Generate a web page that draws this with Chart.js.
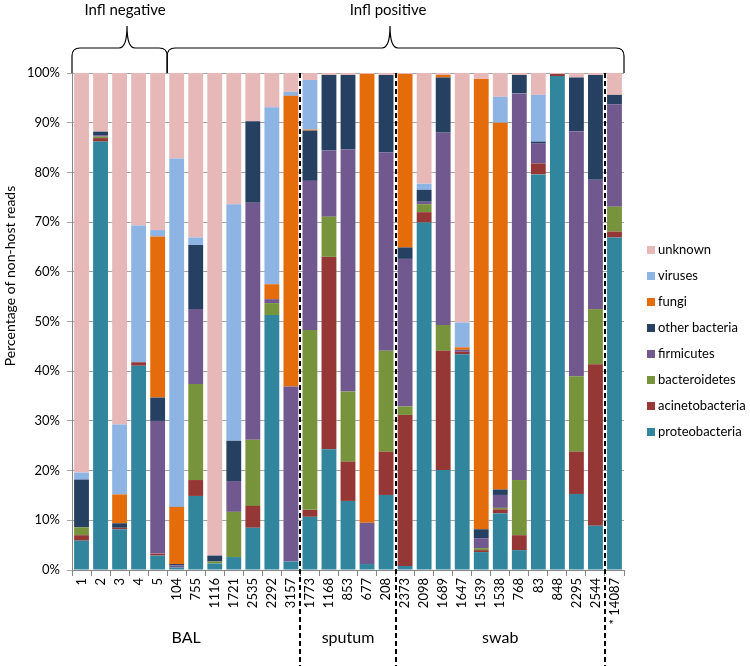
<!DOCTYPE html>
<html>
<head>
<meta charset="utf-8">
<script src="https://cdn.jsdelivr.net/npm/chart.js@4.4.1/dist/chart.umd.min.js"></script>
<style>
  html, body { margin: 0; padding: 0; background: #fff; }
  #wrap { width: 750px; height: 666px; position: relative; }
</style>
</head>
<body>
<div id="wrap"><canvas id="chart" width="750" height="666"></canvas></div>
<script>
// categorias (amostras)
const categories = ['1', '2', '3', '4', '5', '104', '755', '1116', '1721', '2535', '2292', '3157',
    '1773', '1168', '853', '677', '208',
    '2373', '2098', '1689', '1647', '1539', '1538', '768', '83', '848', '2295', '2544',
    '* 14087'];

// séries (percentual de leituras)
const proteobacteria = [5.9, 86.2, 8.2, 41.1, 2.9, 0.5, 14.9, 1.3, 2.6, 8.5, 51.3, 1.7,
    10.7, 24.3, 13.9, 1.2, 15.1,
    0.8, 69.9, 20.1, 43.4, 3.6, 11.4, 4.0, 79.6, 99.4, 15.3, 8.9, 66.9];
const acinetobacteria = [1.1, 0.7, 0.3, 0.7, 0.4, 0, 3.2, 0, 0, 4.4, 0, 0,
    1.4, 38.7, 7.9, 0, 8.7,
    30.4, 2.1, 24.0, 0.5, 0.4, 0.8, 3.0, 2.2, 0.4, 8.5, 32.5, 1.2];
const bacteroidetes = [1.6, 0.3, 0, 0, 0, 0, 19.3, 0.4, 9.1, 13.3, 2.4, 0,
    36.2, 8.1, 14.1, 0, 20.3,
    1.7, 1.6, 5.2, 0, 0.4, 0.3, 11.1, 0, 0, 15.2, 11.1, 5.0];
const firmicutes = [0, 0.3, 0, 0, 26.7, 0.4, 15.1, 0, 6.2, 47.7, 0.8, 35.2,
    30.0, 13.3, 48.7, 8.3, 39.9,
    29.7, 0.5, 38.7, 0.4, 2.0, 2.6, 77.8, 4.1, 0, 49.3, 26.0, 20.6];
const otherBacteria = [9.6, 0.7, 0.9, 0, 4.7, 0.3, 12.9, 1.2, 8.1, 16.4, 0, 0,
    10.1, 15.2, 15.0, 0, 15.6,
    2.3, 2.4, 11.1, 0, 1.8, 1.1, 3.7, 0.3, 0, 10.8, 21.1, 1.9];
const fungi = [0, 0, 5.8, 0, 32.4, 11.5, 0, 0, 0, 0, 3.0, 58.5,
    0.2, 0, 0, 90.3, 0,
    34.9, 0, 0.5, 0.5, 90.6, 73.8, 0, 0, 0, 0, 0, 0];
const viruses = [1.4, 0, 14.1, 27.5, 1.3, 70.1, 1.5, 0, 47.6, 0, 35.6, 0.8,
    10.0, 0, 0, 0, 0,
    0, 1.2, 0, 5.0, 0, 5.2, 0, 9.4, 0, 0, 0, 0];
const unknown = [80.4, 11.8, 70.7, 30.7, 31.6, 17.2, 33.1, 97.1, 26.4, 9.7, 6.9, 3.8,
    1.4, 0.4, 0.4, 0.2, 0.4,
    0.2, 22.3, 0.4, 50.2, 1.2, 4.8, 0.4, 4.4, 0.2, 0.9, 0.4, 4.4];

const yTicks = [0, 10, 20, 30, 40, 50, 60, 70, 80, 90, 100];

// grupos de amostras
const groupLabels = ['BAL', 'sputum', 'swab'];
const groupStarts = [0, 12, 17, 28];      // índice inicial de cada grupo (último = "*")
const inflLabels = ['Infl negative', 'Infl positive'];
const inflStarts = [0, 5];
const inflTips = [127, 390];              // posição da ponta de cada chave

const FONT = 'Lato, "Open Sans", sans-serif';

const seriesList = [
    { label: 'proteobacteria', data: proteobacteria, color: '#31859C' },
    { label: 'acinetobacteria', data: acinetobacteria, color: '#953735' },
    { label: 'bacteroidetes', data: bacteroidetes, color: '#77933C' },
    { label: 'firmicutes', data: firmicutes, color: '#71588F' },
    { label: 'other bacteria', data: otherBacteria, color: '#254061' },
    { label: 'fungi', data: fungi, color: '#E46C0A' },
    { label: 'viruses', data: viruses, color: '#8EB4E3' },
    { label: 'unknown', data: unknown, color: '#E6B9B8' }
];

function drawBrace(ctx, x0, x1, xm, yEnd, yBar, yTip) {
    const r = 8;
    ctx.beginPath();
    ctx.moveTo(x0, yEnd);
    ctx.lineTo(x0, yBar + r);
    ctx.quadraticCurveTo(x0, yBar, x0 + r, yBar);
    ctx.lineTo(xm - r, yBar);
    ctx.quadraticCurveTo(xm, yBar, xm, yTip);
    ctx.quadraticCurveTo(xm, yBar, xm + r, yBar);
    ctx.lineTo(x1 - r, yBar);
    ctx.quadraticCurveTo(x1, yBar, x1, yBar + r);
    ctx.lineTo(x1, yEnd);
    ctx.stroke();
}

const annotations = {
    id: 'annotations',
    afterDraw(chart) {
        const ctx = chart.ctx;
        const x = chart.scales.x;
        const area = chart.chartArea;
        const between = i => (x.getPixelForTick(i - 1) + x.getPixelForTick(i)) / 2;

        ctx.save();
        // linhas tracejadas separando os grupos
        ctx.strokeStyle = '#000';
        ctx.lineWidth = 2;
        ctx.setLineDash([5, 3]);
        for (let g = 1; g < groupStarts.length; g++) {
            const px = Math.round(between(groupStarts[g]));
            ctx.beginPath();
            ctx.moveTo(px, area.top);
            ctx.lineTo(px, 666);
            ctx.stroke();
        }
        ctx.setLineDash([]);

        // rótulos dos grupos
        ctx.fillStyle = '#000';
        ctx.font = '16px ' + FONT;
        ctx.textAlign = 'center';
        ctx.textBaseline = 'middle';
        for (let g = 0; g < groupLabels.length; g++) {
            const a = g === 0 ? area.left : between(groupStarts[g]);
            const b = between(groupStarts[g + 1]);
            ctx.fillText(groupLabels[g], (a + b) / 2, 638);
        }

        // chaves "Infl negative" / "Infl positive"
        ctx.lineWidth = 1.2;
        ctx.strokeStyle = '#000';
        ctx.font = '15px ' + FONT;
        for (let k = 0; k < inflLabels.length; k++) {
            const a = k === 0 ? area.left : between(inflStarts[k]);
            const b = k + 1 < inflStarts.length ? between(inflStarts[k + 1]) : area.right;
            drawBrace(ctx, a, b, inflTips[k], area.top, 48, 26);
            ctx.fillText(inflLabels[k], inflTips[k] - 2, 10);
        }

        // título do eixo y
        ctx.save();
        ctx.translate(10, 276);
        ctx.rotate(-Math.PI / 2);
        ctx.font = '14px ' + FONT;
        ctx.fillText('Percentage of non-host reads', 0, 0);
        ctx.restore();

        // legenda
        ctx.font = '13px ' + FONT;
        ctx.textAlign = 'left';
        const order = seriesList.slice().reverse();
        order.forEach((s, i) => {
            const cy = 250 + i * 26;
            ctx.fillStyle = s.color;
            ctx.fillRect(647, cy - 4, 8, 8);
            ctx.fillStyle = '#000';
            ctx.fillText(s.label, 658, cy);
        });
        ctx.restore();
    }
};

new Chart(document.getElementById('chart'), {
    type: 'bar',
    data: {
        labels: categories,
        datasets: seriesList.map(s => ({
            label: s.label,
            data: s.data,
            backgroundColor: s.color,
            borderWidth: 0,
            categoryPercentage: 1.0,
            barPercentage: 0.78
        }))
    },
    options: {
        responsive: false,
        animation: false,
        devicePixelRatio: 1,
        layout: { padding: { top: 73, right: 126, left: 0, bottom: 0 } },
        plugins: {
            legend: { display: false },
            tooltip: { enabled: false }
        },
        scales: {
            x: {
                stacked: true,
                afterFit(scale) { scale.height = 96; },
                grid: {
                    offset: true,
                    drawOnChartArea: false,
                    drawTicks: true,
                    tickLength: 6,
                    color: '#868686'
                },
                border: { color: '#868686', width: 1 },
                ticks: {
                    autoSkip: false,
                    minRotation: 90,
                    maxRotation: 90,
                    padding: 2,
                    color: '#000',
                    font: { family: FONT, size: 13 }
                }
            },
            y: {
                stacked: true,
                min: 0,
                max: 100,
                afterFit(scale) { scale.width = 72; },
                afterBuildTicks(scale) { scale.ticks = yTicks.map(v => ({ value: v })); },
                grid: {
                    color: '#a6a6a6',
                    tickLength: 5,
                    drawTicks: true
                },
                border: { color: '#868686', width: 1 },
                ticks: {
                    padding: 7,
                    color: '#000',
                    font: { family: FONT, size: 13 },
                    callback: v => v + '%'
                }
            }
        }
    },
    plugins: [annotations]
});
</script>
</body>
</html>
